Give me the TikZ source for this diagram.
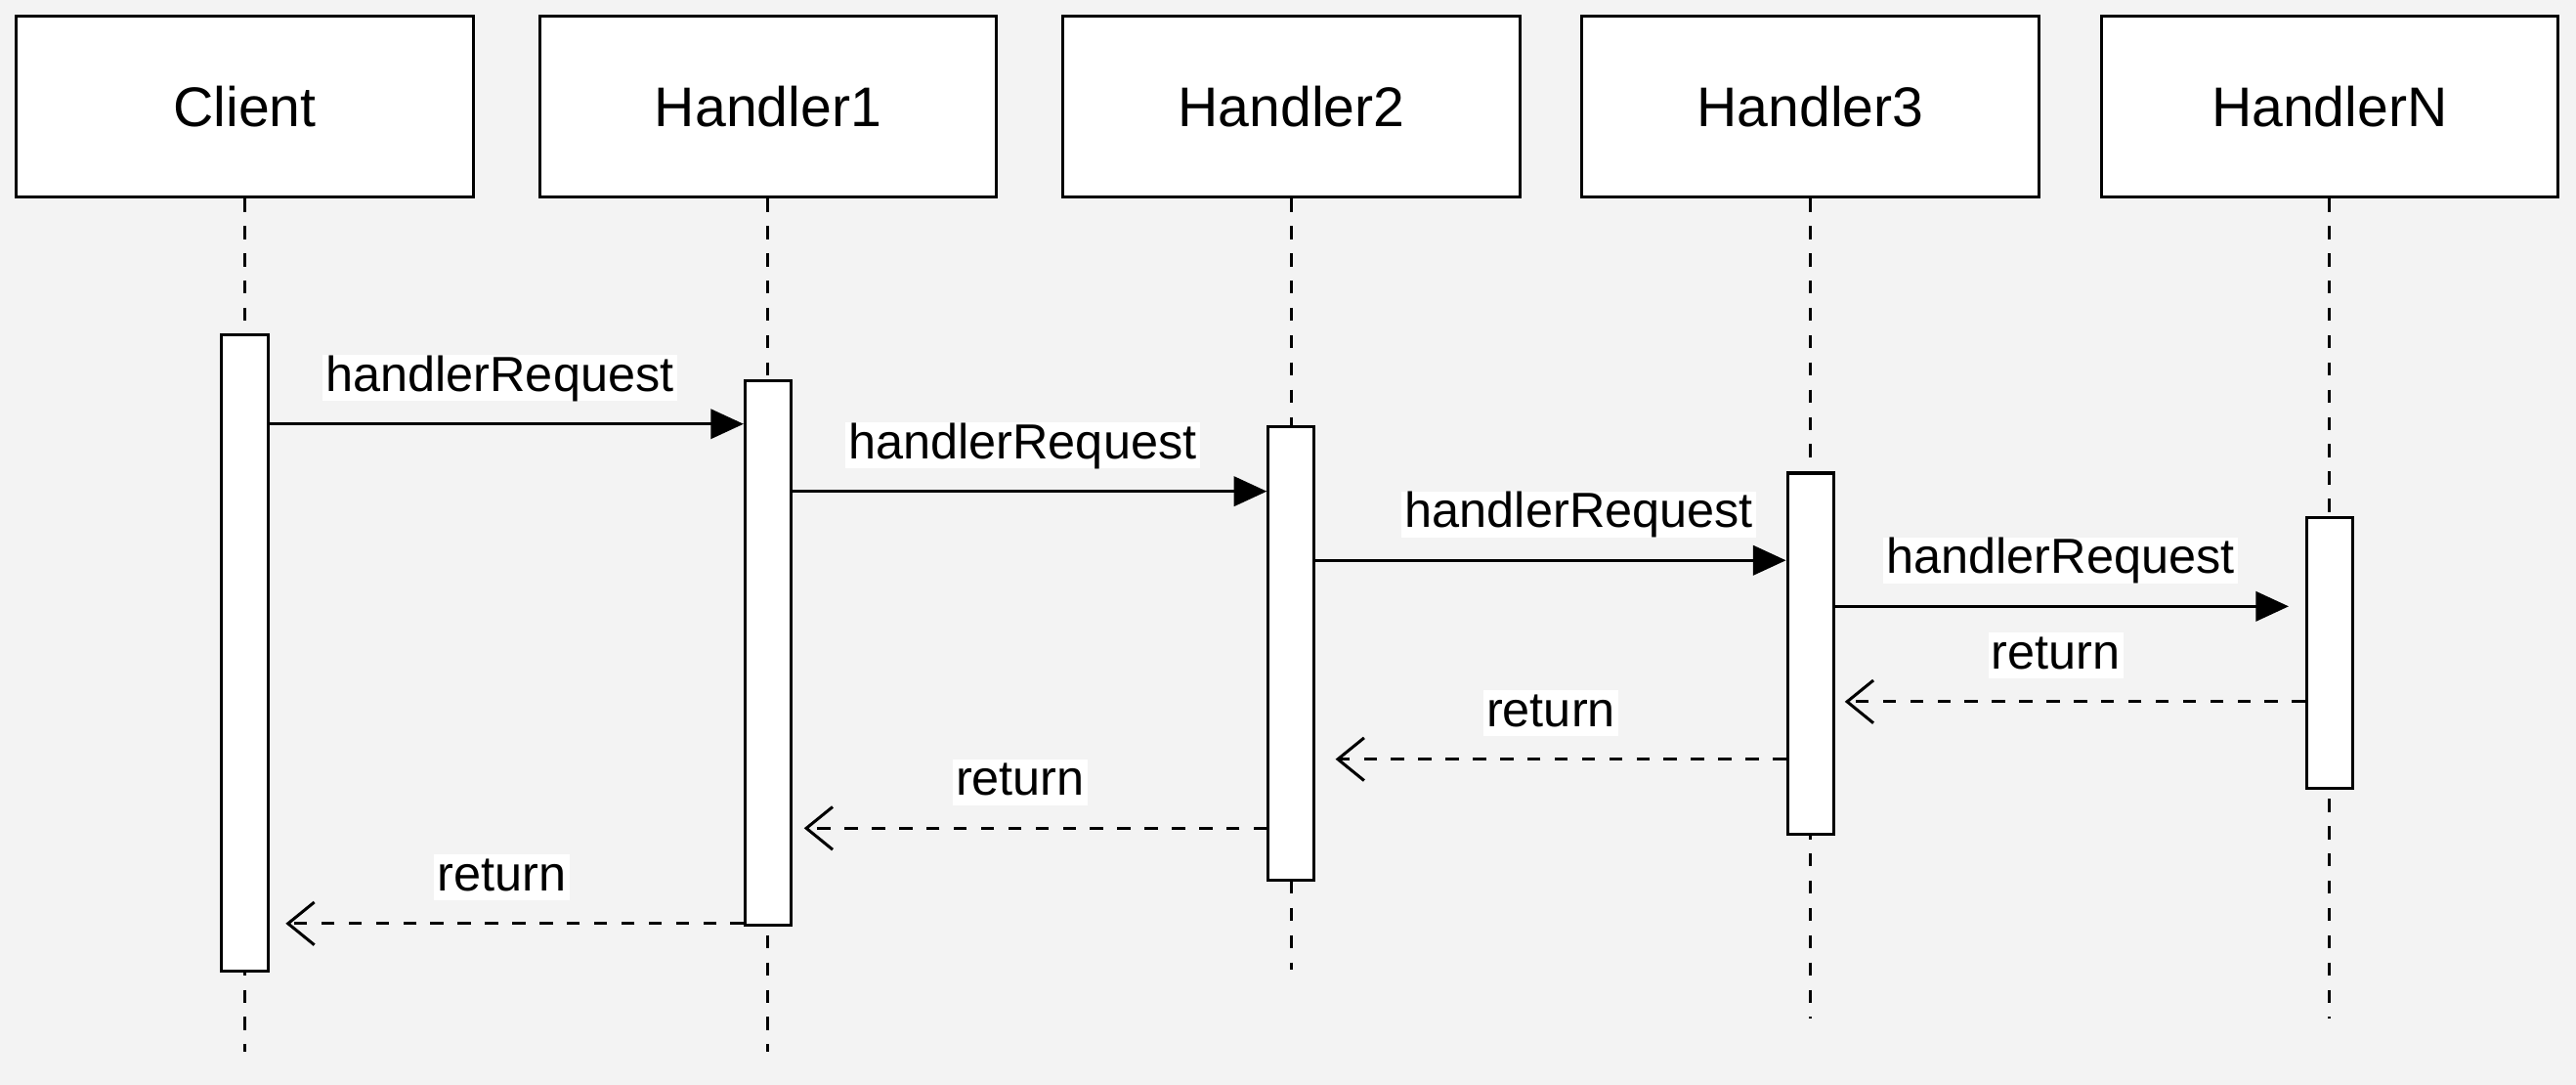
\documentclass[tikz,border=0pt]{standalone}
\usepackage{fontspec}
\setmainfont{Liberation Sans}
\usetikzlibrary{arrows.meta}
\definecolor{bg}{HTML}{F3F3F3}
\begin{document}
\begin{tikzpicture}[x=0.5pt,y=-0.5pt,
 actor/.style={draw, fill=white, line width=0.9pt, minimum width=139pt, minimum height=55pt, inner sep=0pt, font=\fontsize{17}{20}\selectfont},
 bar/.style={draw, fill=white, line width=0.9pt, minimum width=14pt, inner sep=0pt, anchor=north},
 life/.style={line width=0.9pt, dash pattern=on 4pt off 4.3pt},
 req/.style={line width=0.9pt, -{Triangle[length=10pt,width=9pt]}},
 ret/.style={line width=0.9pt, dash pattern=on 4pt off 4.3pt, -{Straight Barb[length=8pt,width=13pt,line width=0.9pt]}, shorten >=3pt},
 lbl/.style={fill=white, inner xsep=1pt, inner ysep=0pt, text height=11pt, text depth=3pt, font=\fontsize{15}{18}\selectfont, yshift=14pt},
]
\fill[bg] (0,0) rectangle (1568,660);

% actors
\node[actor] (c)  at (149,65)    {Client};
\node[actor] (h1) at (467.5,65)  {Handler1};
\node[actor] (h2) at (786,65)    {Handler2};
\node[actor] (h3) at (1102,65)   {Handler3};
\node[actor] (hn) at (1418,65)   {HandlerN};

% lifeline ends
\coordinate (ce)  at (149,640);
\coordinate (h1e) at (467.5,640);
\coordinate (h2e) at (786,590);
\coordinate (h3e) at (1102,620);
\coordinate (hne) at (1418,620);

\draw[life] (c.south)  -- (ce);
\draw[life] (h1.south) -- (h1e);
\draw[life] (h2.south) -- (h2e);
\draw[life] (h3.south) -- (h3e);
\draw[life] (hn.south) -- (hne);

% activation bars
\node[bar, minimum height=193.5pt] (a0) at (149,203) {};
\node[bar, minimum height=165.5pt] (a1) at (467.5,231) {};
\node[bar, minimum height=138pt]   (a2) at (786,259) {};
\node[bar, minimum height=110pt]   (a3) at (1102,287) {};
\node[bar, minimum height=82.5pt]  (a4) at (1418,314) {};

% requests
\draw[req] (a0.east |- 0,258) -- (a1.west |- 0,258) node[lbl, pos=0.486] (m1) {handlerRequest};
\draw[req] (a1.east |- 0,299) -- (a2.west |- 0,299) node[lbl, pos=0.485] (m2) {handlerRequest};
\draw[req] (a2.east |- 0,341) -- (a3.west |- 0,341) node[lbl, pos=0.56] (m3) {handlerRequest};
\draw[req, shorten >=5pt] (a3.east |- 0,369) -- (a4.west |- 0,369) node[lbl, pos=0.48] (m4) {handlerRequest};

% returns
\draw[ret] (a4.west |- 0,427) -- (a3.east |- 0,427) node[lbl, pos=0.53] (r4) {return};
\draw[ret, shorten >=6pt] (a3.west |- 0,462) -- (a2.east |- 0,462) node[lbl, pos=0.5] (r3) {return};
\draw[ret, shorten >=3.5pt] (a2.west |- 0,504) -- (a1.east |- 0,504) node[lbl, pos=0.52] (r2) {return};
\draw[ret, shorten >=5pt] (a1.west |- 0,562) -- (a0.east |- 0,562) node[lbl, pos=0.51] (r1) {return};
\end{tikzpicture}
\end{document}
